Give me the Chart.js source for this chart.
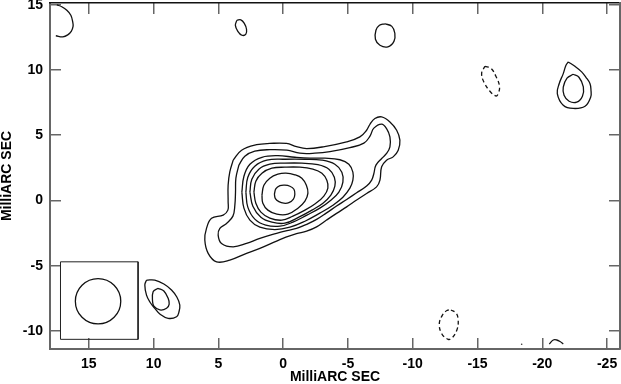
<!DOCTYPE html>
<html><head><meta charset="utf-8">
<script src="https://cdn.jsdelivr.net/npm/chart.js@4/dist/chart.umd.min.js"></script>
<style>html,body{margin:0;padding:0;background:#fff}#wrap{width:621px;height:384px}</style>
</head><body><div id="wrap"><canvas id="c" width="621" height="384"></canvas></div>
<script>
// Axis ticks (milliarcseconds)
const xTicks = [15, 10, 5, 0, -5, -10, -15, -20, -25];
const yTicks = [15, 10, 5, 0, -5, -10];
const xRange = [-26, 18];
const yRange = [-11.38, 15.13];
const axisTitle = 'MilliARC SEC';

// Main source contours (outer -> inner), [RA offset, Dec offset] in mas
const mainC1 = [[3.86,3.09],[3.21,3.85],[2.05,4.27],[1.03,4.37],[-0.26,4.37],[-1.03,4.12],[-1.81,3.98],[-3.09,4.11],[-4.90,4.49],[-5.92,4.87],[-6.44,5.38],[-6.70,5.84],[-7.08,6.28],[-7.60,6.40],[-8.24,6.02],[-8.76,5.38],[-9.01,4.62],[-8.88,3.85],[-8.49,3.34],[-7.98,3.09],[-7.60,2.58],[-7.47,1.56],[-7.21,1.04],[-6.44,0.54],[-5.67,0.03],[-4.90,-0.49],[-4.12,-0.99],[-3.35,-1.50],[-2.58,-2.02],[-1.81,-2.35],[-1.03,-2.54],[-0.21,-2.81],[0.51,-3.11],[1.80,-3.67],[2.83,-4.05],[4.12,-4.57],[5.14,-4.70],[5.79,-4.05],[6.05,-3.03],[5.92,-2.14],[5.53,-1.37],[4.63,-1.12],[4.27,-0.74],[4.25,-0.10],[4.25,1.17],[4.12,2.19]];
const mainC2 = [[3.42,2.71],[2.96,3.39],[2.19,3.78],[1.03,3.89],[-0.29,3.85],[-1.29,3.62],[-2.45,3.62],[-3.61,3.74],[-5.15,4.05],[-6.23,4.39],[-6.70,4.93],[-7.00,5.54],[-7.60,5.85],[-7.98,5.51],[-8.24,4.87],[-8.24,4.11],[-7.98,3.60],[-7.60,3.22],[-7.16,2.71],[-7.00,2.07],[-6.83,1.56],[-6.44,1.10],[-5.67,0.59],[-4.90,0.08],[-4.12,-0.43],[-3.35,-0.95],[-2.58,-1.45],[-1.81,-1.83],[-1.03,-2.14],[-0.13,-2.35],[0.51,-2.52],[1.80,-2.90],[2.83,-3.29],[3.86,-3.55],[4.76,-3.29],[5.02,-2.65],[4.89,-2.14],[4.37,-1.76],[3.88,-1.20],[3.73,-0.36],[3.68,0.64],[3.65,1.71]];
const mainC3 = [[3.19,0.64],[3.03,1.86],[2.57,2.78],[1.64,3.31],[0.41,3.43],[-0.90,3.31],[-2.06,3.24],[-3.22,3.24],[-4.38,3.12],[-5.07,2.78],[-5.38,2.17],[-5.38,1.55],[-5.15,0.94],[-4.61,0.25],[-3.84,-0.36],[-2.83,-0.97],[-1.68,-1.59],[-0.52,-2.05],[0.64,-2.23],[1.80,-2.05],[2.57,-1.51],[3.03,-0.59]];
const mainC4 = [[2.88,0.64],[2.73,1.78],[2.19,2.63],[1.26,3.09],[-0.13,3.16],[-1.68,3.16],[-2.99,3.09],[-3.99,2.78],[-4.53,2.17],[-4.61,1.40],[-4.30,0.64],[-3.68,0.02],[-2.83,-0.59],[-1.83,-1.12],[-0.75,-1.66],[0.25,-1.97],[1.34,-1.89],[2.19,-1.43],[2.73,-0.51]];
const mainC5 = [[2.57,0.64],[2.42,1.63],[1.88,2.40],[1.03,2.78],[-0.13,2.86],[-1.44,2.86],[-2.68,2.74],[-3.53,2.40],[-3.95,1.78],[-3.99,1.09],[-3.68,0.41],[-3.07,-0.21],[-2.22,-0.74],[-1.21,-1.28],[-0.13,-1.74],[0.87,-1.66],[1.72,-1.28],[2.34,-0.44]];
const mainC6 = [[2.26,0.64],[2.11,1.48],[1.64,2.09],[0.87,2.47],[-0.13,2.55],[-1.29,2.55],[-2.29,2.40],[-2.99,2.09],[-3.37,1.55],[-3.45,0.94],[-3.14,0.33],[-2.53,-0.21],[-1.68,-0.74],[-0.75,-1.20],[0.10,-1.51],[1.03,-1.35],[1.72,-0.89],[2.11,-0.21]];
const mainC7 = [[1.64,0.41],[1.49,1.17],[1.03,1.71],[0.41,2.01],[-0.21,2.09],[-0.90,1.97],[-1.44,1.71],[-1.79,1.17],[-1.91,0.56],[-1.68,-0.05],[-1.14,-0.59],[-0.36,-1.05],[0.49,-1.05],[1.18,-0.74],[1.57,-0.21]];
const mainC8 = [[0.68,0.48],[0.56,0.90],[0.25,1.13],[-0.13,1.17],[-0.52,1.09],[-0.83,0.86],[-0.90,0.48],[-0.79,0.10],[-0.44,-0.17],[-0.05,-0.21],[0.33,-0.09],[0.60,0.14]];

// Weak features
const arcTopLeft = [[17.47,14.99],[17.09,14.84],[16.70,14.57],[16.39,14.19],[16.24,13.65],[16.22,13.34],[16.36,12.96],[16.63,12.69],[17.01,12.54],[17.55,12.62]];
const blobTop1 = [[3.58,13.80],[3.27,13.84],[3.00,13.57],[2.83,13.12],[2.88,12.74],[3.19,12.66],[3.50,12.96],[3.69,13.42]];
const blobTop2 = [[-7.85,13.54],[-8.39,13.34],[-8.62,12.81],[-8.55,12.19],[-8.08,11.77],[-7.47,11.89],[-7.12,12.35],[-7.16,13.04],[-7.43,13.42]];
const negBlob1 = [[-15.57,10.28],[-16.04,10.13],[-16.42,9.52],[-16.70,8.75],[-16.58,8.14],[-16.40,8.01],[-15.96,8.37],[-15.50,9.06],[-15.32,9.75]];
const blobRightOuter = [[-22.01,10.61],[-22.52,10.28],[-23.04,9.85],[-23.37,9.44],[-23.68,8.96],[-23.76,8.45],[-23.74,7.93],[-23.30,7.22],[-22.39,7.05],[-21.62,7.30],[-21.16,8.19],[-21.31,8.96],[-21.62,9.72],[-21.83,10.36]];
const blobRightInner = [[-22.39,9.67],[-22.83,9.44],[-23.17,8.70],[-23.10,7.99],[-22.66,7.53],[-22.07,7.60],[-21.68,8.06],[-21.62,8.68],[-21.91,9.37]];
const blobSWOuter = [[10.55,-6.10],[9.91,-6.10],[9.21,-6.40],[8.62,-6.86],[8.21,-7.40],[7.98,-8.01],[8.05,-8.55],[8.23,-8.91],[8.88,-9.03],[9.52,-8.70],[9.91,-8.27],[10.29,-7.78],[10.55,-7.25],[10.68,-6.48]];
const blobSWInner = [[9.65,-6.73],[9.21,-6.94],[8.88,-7.50],[8.80,-7.94],[9.00,-8.26],[9.52,-8.39],[9.98,-8.09],[10.08,-7.76],[10.04,-6.99]];
const negBlob2 = [[-12.95,-8.39],[-13.34,-8.62],[-13.51,-9.16],[-13.41,-9.92],[-13.03,-10.54],[-12.74,-10.64],[-12.25,-10.23],[-12.05,-9.47],[-12.29,-8.78],[-12.64,-8.43]];
const arcBottomRight = [[-20.54,-10.99],[-20.85,-10.69],[-21.11,-10.69],[-21.37,-10.81],[-21.62,-10.99]];
const tinySpot = [[-18.41,-11.02]];

// Restoring beam box and beam
const beamBox = [[17.19,-4.70],[11.20,-4.70],[11.20,-10.64],[17.19,-10.64]];
const beamCenter = [[14.29,-7.72]];

const FONT = "'Liberation Sans', Arial, Helvetica, sans-serif";
const toPts = p => p.map(([x, y]) => ({x, y}));
const closed = p => toPts(p.concat([p[0]]));
function contour(data, dash, width) {
  return {data, showLine: true, pointRadius: 0, pointHitRadius: 0, borderColor: '#111',
          borderWidth: width || 1.3, tension: 0.4, fill: false, borderDash: dash || []};
}
const DASH = [4, 3];
const datasets = [
  contour(closed(mainC1)), contour(closed(mainC2)), contour(closed(mainC3)), contour(closed(mainC4)),
  contour(closed(mainC5)), contour(closed(mainC6)), contour(closed(mainC7)), contour(closed(mainC8)),
  contour(toPts(arcTopLeft)), contour(closed(blobTop1)), contour(closed(blobTop2)),
  contour(closed(negBlob1), DASH), contour(closed(blobRightOuter)), contour(closed(blobRightInner)),
  contour(closed(blobSWOuter)), contour(closed(blobSWInner)), contour(closed(negBlob2), DASH),
  contour(toPts(arcBottomRight)),
  {data: toPts(tinySpot), showLine: false, pointRadius: 0.8, pointBackgroundColor: '#333', pointBorderWidth: 0},
  {data: closed(beamBox), showLine: true, pointRadius: 0, borderColor: '#222', borderWidth: 1, tension: 0, fill: false},
  {data: toPts(beamCenter), showLine: false, pointRadius: 22.7, pointStyle: 'circle',
   pointBackgroundColor: 'rgba(0,0,0,0)', pointBorderColor: '#111', pointBorderWidth: 1.3}
];

const tickFont = {family: FONT, size: 14, weight: 'bold'};
const setTicks = vals => s => { s.ticks = vals.map(v => ({value: v})); };
function fitTo(dim, val) {
  return s => { s[dim] = val; s.paddingLeft = 0; s.paddingRight = 0; s.paddingTop = 0; s.paddingBottom = 0; };
}
const gridOpts = {drawOnChartArea: false, drawTicks: true, tickLength: -11, color: '#666', lineWidth: 1.5};

new Chart(document.getElementById('c'), {
  type: 'scatter',
  data: {datasets},
  options: {
    responsive: false, animation: false, events: [],
    layout: {padding: 0, autoPadding: false},
    plugins: {legend: {display: false}, tooltip: {enabled: false}},
    scales: {
      x: {type: 'linear', position: 'bottom', reverse: true, min: xRange[0], max: xRange[1],
          afterBuildTicks: setTicks(xTicks), afterFit: fitTo('height', 35),
          ticks: {font: tickFont, color: '#000', padding: 18, maxRotation: 0, autoSkip: false, callback: v => String(v)},
          grid: gridOpts, border: {display: true, color: '#666', width: 2},
          title: {display: true, text: axisTitle, color: '#000', font: {family: FONT, size: 14, weight: 'bold', lineHeight: 1}, padding: {top: 0, bottom: 0}}},
      y: {type: 'linear', position: 'left', min: yRange[0], max: yRange[1],
          afterBuildTicks: setTicks(yTicks), afterFit: fitTo('width', 50),
          ticks: {font: tickFont, color: '#000', padding: 18, autoSkip: false, callback: v => String(v)},
          grid: gridOpts, border: {display: true, color: '#666', width: 2},
          title: {display: true, text: axisTitle, color: '#000', font: {family: FONT, size: 14, weight: 'bold', lineHeight: 1}, padding: {top: 0, bottom: 0}}},
      x2: {type: 'linear', position: 'top', reverse: true, min: xRange[0], max: xRange[1],
          afterBuildTicks: setTicks(xTicks), afterFit: fitTo('height', 3),
          ticks: {display: false}, grid: gridOpts, border: {display: true, color: '#111', width: 1.5}},
      y2: {type: 'linear', position: 'right', min: yRange[0], max: yRange[1],
          afterBuildTicks: setTicks(yTicks), afterFit: fitTo('width', 1),
          ticks: {display: false}, grid: gridOpts, border: {display: true, color: '#666', width: 2}}
    }
  }
});
</script></body></html>
